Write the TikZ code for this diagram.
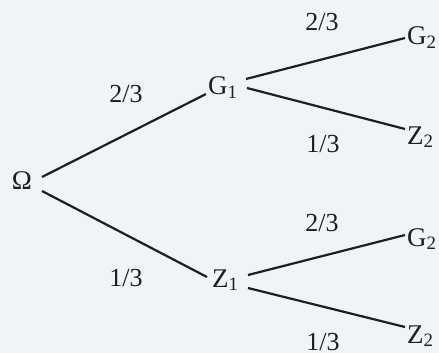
\documentclass[tikz,border=0pt]{standalone}
\usepackage{fontspec}
\setmainfont{Liberation Serif}
\usetikzlibrary{calc}
\definecolor{bg}{RGB}{240,243,247}
\definecolor{ink}{RGB}{30,30,30}
\begin{document}
\begin{tikzpicture}[x=1pt,y=-1pt,
  lbl/.style={inner sep=0pt,anchor=base,text=ink,font=\fontsize{26}{30}\selectfont},
  ev/.style={inner sep=0pt,anchor=base west,text=ink,font=\fontsize{27}{30}\selectfont},
  br/.style={draw=ink,line width=2.2pt}]
\fill[bg] (0,0) rectangle (439,353);
\useasboundingbox (0,0) rectangle (439,353);
% events
\node[ev,anchor=base] (O) at (22,189) {Ω};
\node[ev] (G1) at (208,95) {G\textsubscript{1}};
\node[ev] (Z1) at (212,287) {Z\textsubscript{1}};
\node[ev] (G2a) at (407,45) {G\textsubscript{2}};
\node[ev] (Z2a) at (407,144) {Z\textsubscript{2}};
\node[ev] (G2b) at (407,246) {G\textsubscript{2}};
\node[ev] (Z2b) at (407,343) {Z\textsubscript{2}};
% probabilities
\node[lbl] (p1) at (126,102) {2/3};
\node[lbl] (p2) at (126,286) {1/3};
\node[lbl] (p3) at (322,31) {2/3};
\node[lbl] (p4) at (323,152) {1/3};
\node[lbl] (p5) at (322,231) {2/3};
\node[lbl] (p6) at (323,350) {1/3};
% branches
\draw[br] ($(O.base)+(20,-12)$) -- ($(G1.base west)+(-2,-1)$);
\draw[br] ($(O.base)+(20,2)$) -- ($(Z1.base west)+(-5,-10)$);
\draw[br] ($(G1.base west)+(38,-16)$) -- ($(G2a.base west)+(-2,-7)$);
\draw[br] ($(G1.base west)+(39,-7)$) -- ($(Z2a.base west)+(-2,-15)$);
\draw[br] ($(Z1.base west)+(36,-12)$) -- ($(G2b.base west)+(-2,-11)$);
\draw[br] ($(Z1.base west)+(36,1)$) -- ($(Z2b.base west)+(-2,-16)$);
\end{tikzpicture}
\end{document}
